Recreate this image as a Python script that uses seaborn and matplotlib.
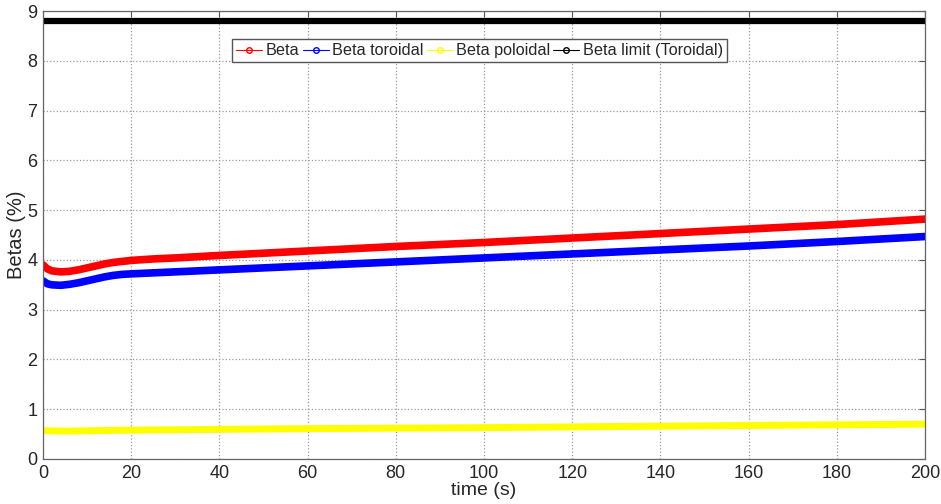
import numpy as np
import pandas as pd
import seaborn as sns
import matplotlib.pyplot as plt
from matplotlib.lines import Line2D

# Data
t_beta = [0, 1, 2, 4, 6, 8, 10, 12, 14, 16, 18, 20, 25, 30, 40, 60, 80, 100, 120, 140, 160, 180, 200]
beta = [3.90, 3.82, 3.78, 3.76, 3.77, 3.80, 3.84, 3.88, 3.92, 3.95, 3.97, 3.99, 4.02, 4.04, 4.09,
        4.18, 4.27, 4.35, 4.44, 4.53, 4.62, 4.71, 4.82]
beta_tor = [3.58, 3.52, 3.50, 3.49, 3.51, 3.54, 3.58, 3.62, 3.66, 3.69, 3.71, 3.72, 3.74, 3.76, 3.80,
            3.88, 3.96, 4.04, 4.12, 4.20, 4.28, 4.37, 4.47]
t_pol = [0, 5, 20, 60, 100, 140, 200]
beta_pol = [0.57, 0.56, 0.58, 0.61, 0.63, 0.66, 0.70]
t_lim = [0, 200]
beta_lim = [8.8, 8.8]

series_names = ['Beta', 'Beta toroidal', 'Beta poloidal', 'Beta limit (Toroidal)']
colors = ['#ff0000', '#0000ff', '#ffff00', '#000000']

sns.set_style("white")
plt.rcParams['font.family'] = ['Liberation Sans', 'DejaVu Sans']

fig = plt.figure(figsize=(9.41, 5.04), dpi=100)
ax = fig.add_axes([0.0457, 0.0893, 0.9373, 0.8887])

sns.lineplot(x=t_beta, y=beta, color=colors[0], linewidth=5.5, ax=ax)
sns.lineplot(x=t_beta, y=beta_tor, color=colors[1], linewidth=5.5, ax=ax)
sns.lineplot(x=t_pol, y=beta_pol, color=colors[2], linewidth=5, ax=ax)
sns.lineplot(x=t_lim, y=beta_lim, color=colors[3], linewidth=4.5, ax=ax)

ax.set_xlim(0, 200)
ax.set_ylim(0, 9)
ax.set_xticks(np.arange(0, 201, 20))
ax.set_yticks(np.arange(0, 10, 1))
ax.grid(True, linestyle=':', color='#999999', linewidth=0.9)
ax.tick_params(direction='in', length=4, labelsize=13, top=True, right=True,
               color='#555555')
ax.tick_params(axis='x', pad=4)
ax.tick_params(axis='y', pad=4)
for s in ax.spines.values():
    s.set_color('#666666')
    s.set_linewidth(0.9)

ax.set_xlabel('time (s)', fontsize=14, labelpad=0)
ax.set_ylabel('Betas (%)', fontsize=14.5, labelpad=1)

# Legend with small hollow markers
handles = [Line2D([0], [0], color=c, marker='o', markersize=4, markerfacecolor='none',
                  linewidth=0.8) for c in colors]
ax.legend(handles, series_names, ncol=4, loc='upper center', bbox_to_anchor=(0.495, 0.955),
          fontsize=11.7, frameon=True, fancybox=False, edgecolor='#555555', framealpha=1,
          handlelength=1.6, handletextpad=0.2, columnspacing=0.2, borderpad=0.25)

fig.savefig('out.png', dpi=100)
